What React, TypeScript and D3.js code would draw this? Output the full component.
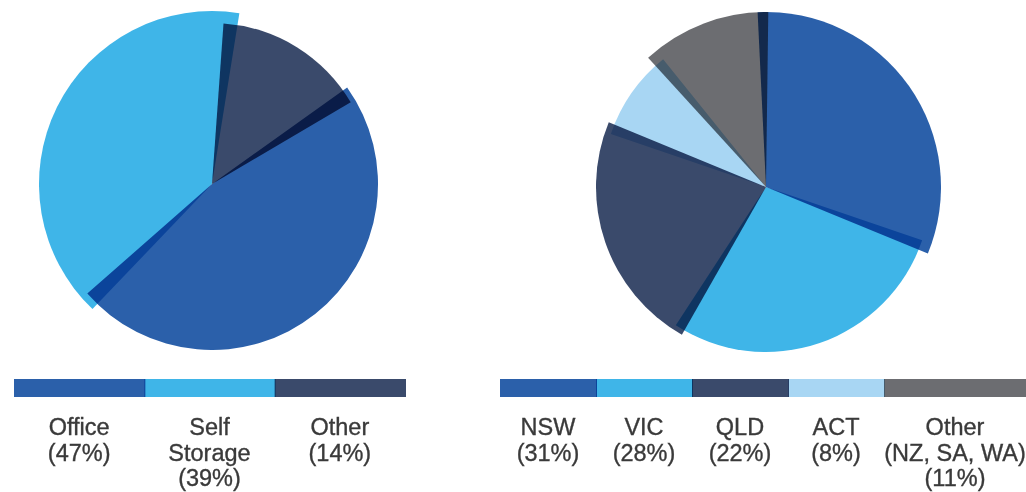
import * as d3 from "d3"

const W = 1026
const H = 492

// left pie: by sector
const sectorNames = ["Office", "Self\nStorage", "Other"]
const sectorShares = [47, 39, 14]
const sectorColors = ["#2b60aa", "#3fb5e8", "#3a4a6b"]
const sectorRadii = [166, 173, 161]

// right pie: by state
const stateNames = ["NSW", "VIC", "QLD", "ACT", "Other\n(NZ, SA, WA)"]
const stateShares = [31, 28, 22, 8, 11]
const stateColors = ["#2b60aa", "#3fb5e8", "#3a4a6b", "#a8d6f3", "#6c6d71"]
const stateRadii = [175, 165, 170, 164, 175]

const rad = (deg: number) => (deg * Math.PI) / 180

interface PieProps {
    cx: number
    cy: number
    values: number[]
    colors: string[]
    radii: number[]
    start: number // degrees, clockwise from 12 o'clock
    overlap: number // degrees each slice bleeds into its neighbours
}

const Pie = ({ cx, cy, values, colors, radii, start, overlap }: PieProps) => {
    const slices = d3.pie<number>().sort(null).value((d) => d)
        .startAngle(rad(start)).endAngle(rad(start + 360))(values)
    const arcGen = d3.arc<any>()
    return (
        <g transform={`translate(${cx},${cy})`}>
            {slices.map((s, i) => (
                <path
                    key={i}
                    d={arcGen({
                        innerRadius: 0,
                        outerRadius: radii[i],
                        startAngle: s.startAngle - rad(overlap / 2),
                        endAngle: s.endAngle + rad(overlap / 2),
                    }) as string}
                    fill={colors[i]}
                    style={{ mixBlendMode: "multiply" }}
                />
            ))}
        </g>
    )
}

interface LegendProps {
    names: string[]
    values: number[]
    colors: string[]
    x0: number
    x1: number
    stretchLast?: boolean
}

const Legend = ({ names, values, colors, x0, x1, stretchLast }: LegendProps) => {
    const x = d3.scaleBand<number>().domain(d3.range(names.length)).range([x0, x1]).paddingInner(0)
    const barY = 379
    const barH = 18
    const baseY = 435
    const lineH = 25.5
    return (
        <g>
            {names.map((n, i) => {
                const left = x(i) as number
                const w = stretchLast && i === names.length - 1 ? W - left : x.bandwidth()
                const lines = [...n.split("\n"), `(${values[i]}%)`]
                return (
                    <g key={i}>
                        <rect x={left} y={barY} width={w + 1} height={barH} fill={colors[i]}
                            style={{ mixBlendMode: "multiply" }} />
                        <text x={left + w / 2} y={baseY} textAnchor="middle" fill="#3a3a3a"
                            stroke="#3a3a3a" strokeWidth={0.35}
                            fontFamily="'Liberation Sans', Arial, sans-serif" fontSize={23.5}>
                            {lines.map((l, j) => (
                                <tspan key={j} x={left + w / 2} dy={j === 0 ? 0 : lineH}>{l}</tspan>
                            ))}
                        </text>
                    </g>
                )
            })}
        </g>
    )
}

export default function App() {
    return (
        <svg width={W} height={H} style={{ position: "absolute", left: 0, top: 0, background: "#fff" }}>
            <Pie cx={212} cy={184} values={sectorShares} colors={sectorColors} radii={sectorRadii} start={57} overlap={5} />
            <Pie cx={766} cy={187} values={stateShares} colors={stateColors} radii={stateRadii} start={-1} overlap={3.5} />
            <Legend names={sectorNames} values={sectorShares} colors={sectorColors} x0={14} x1={405} />
            <Legend names={stateNames} values={stateShares} colors={stateColors} x0={500} x1={980} stretchLast />
        </svg>
    )
}
